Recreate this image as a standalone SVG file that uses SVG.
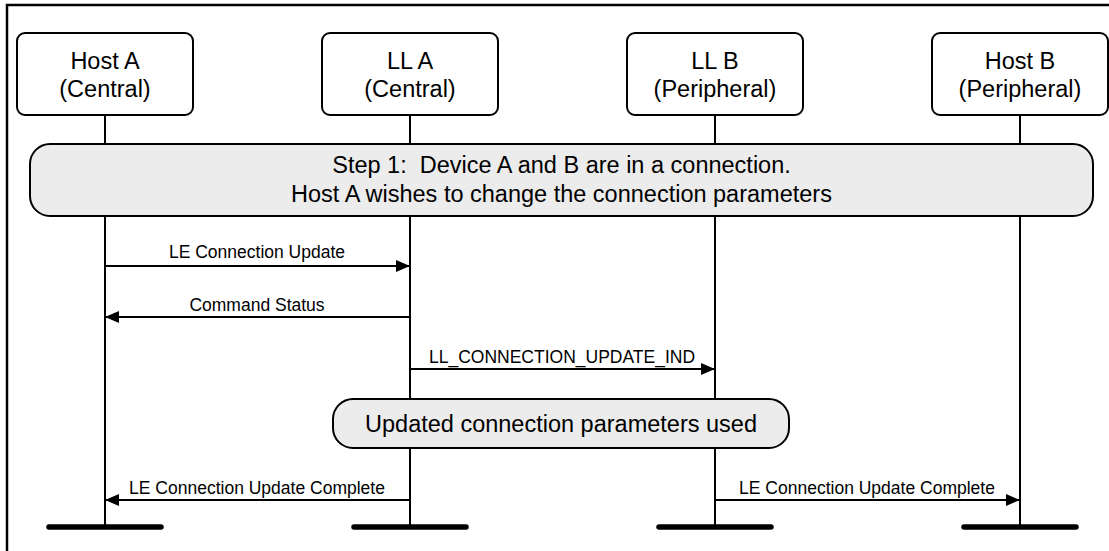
<svg xmlns="http://www.w3.org/2000/svg" width="1109" height="551" viewBox="0 0 1109 551">
<style>
.frame{fill:none;stroke:#000;stroke-width:2.5}
.box{fill:#fff;stroke:#000;stroke-width:2}
.note{fill:#ececec;stroke:#000;stroke-width:2}
.life{stroke:#000;stroke-width:2}
.bar{stroke:#000;stroke-width:5.5;stroke-linecap:round}
.msg{stroke:#000;stroke-width:2;fill:none}
.t{font-family:"Liberation Sans",Arial,sans-serif;font-size:23.5px;fill:#000;text-anchor:middle}
.l{font-family:"Liberation Sans",Arial,sans-serif;font-size:17.5px;fill:#000;text-anchor:middle}
</style>
<defs>
<marker id="ah" markerWidth="14" markerHeight="12" refX="14" refY="6" orient="auto" markerUnits="userSpaceOnUse">
<path d="M0,0 L14,6 L0,12 Z" fill="#000"/>
</marker>
</defs>
<rect width="1109" height="551" fill="#fff"/>
<rect class="frame" x="7" y="5" width="1115" height="560"/>
<g id="lifelines">
<line class="life" x1="105" y1="115" x2="105" y2="527"/>
<line class="life" x1="410" y1="115" x2="410" y2="527"/>
<line class="life" x1="715" y1="115" x2="715" y2="527"/>
<line class="life" x1="1020" y1="115" x2="1020" y2="527"/>
<line class="bar" x1="49" y1="527" x2="161" y2="527"/>
<line class="bar" x1="354" y1="527" x2="466" y2="527"/>
<line class="bar" x1="659" y1="527" x2="771" y2="527"/>
<line class="bar" x1="964" y1="527" x2="1076" y2="527"/>
</g>
<g id="hostA">
<rect class="box" x="17" y="33" width="176" height="82" rx="8"/>
<text class="t" x="105" y="69">Host A</text>
<text class="t" x="105" y="97">(Central)</text>
</g>
<g id="llA">
<rect class="box" x="322" y="33" width="176" height="82" rx="8"/>
<text class="t" x="410" y="69">LL A</text>
<text class="t" x="410" y="97">(Central)</text>
</g>
<g id="llB">
<rect class="box" x="627" y="33" width="176" height="82" rx="8"/>
<text class="t" x="715" y="69">LL B</text>
<text class="t" x="715" y="97">(Peripheral)</text>
</g>
<g id="hostB">
<rect class="box" x="932" y="33" width="176" height="82" rx="8"/>
<text class="t" x="1020" y="69">Host B</text>
<text class="t" x="1020" y="97">(Peripheral)</text>
</g>
<g id="step1">
<rect class="note" x="30" y="144" width="1063" height="72" rx="20"/>
<text class="t" x="561.5" y="173" xml:space="preserve">Step 1:  Device A and B are in a connection.</text>
<text class="t" x="561.5" y="202">Host A wishes to change the connection parameters</text>
</g>
<g id="updated">
<rect class="note" x="333" y="399" width="456" height="49" rx="20"/>
<text class="t" x="561" y="432">Updated connection parameters used</text>
</g>
<g id="connectors">
<line class="msg" x1="105" y1="266" x2="410" y2="266" marker-end="url(#ah)"/>
<text class="l" x="257" y="258">LE Connection Update</text>
<line class="msg" x1="410" y1="317" x2="105" y2="317" marker-end="url(#ah)"/>
<text class="l" x="257" y="311">Command Status</text>
<line class="msg" x1="410" y1="369" x2="715" y2="369" marker-end="url(#ah)"/>
<text class="l" x="562" y="363">LL_CONNECTION_UPDATE_IND</text>
<line class="msg" x1="410" y1="500" x2="105" y2="500" marker-end="url(#ah)"/>
<text class="l" x="257" y="494">LE Connection Update Complete</text>
<line class="msg" x1="715" y1="500" x2="1020" y2="500" marker-end="url(#ah)"/>
<text class="l" x="867" y="494">LE Connection Update Complete</text>
</g>
</svg>
